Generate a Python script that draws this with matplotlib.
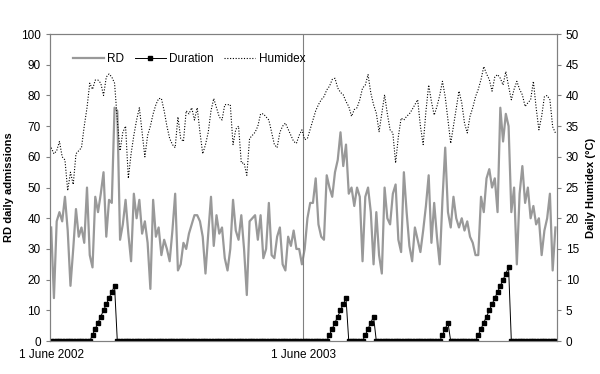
import matplotlib
matplotlib.use("Agg")
import matplotlib.pyplot as plt
import numpy as np

plt.rcParams["font.family"] = ["Liberation Sans", "DejaVu Sans"]

# daily values, 1 June - 31 August of each summer
rd_2002 = [37, 14, 39, 42, 39, 47, 36, 18, 30, 43, 34, 37, 32, 50, 28, 24, 47, 42, 48, 55,
           34, 46, 45, 76, 75, 33, 38, 46, 35, 26, 48, 40, 46, 35, 39, 32, 17, 46, 34, 37,
           28, 33, 30, 26, 36, 48, 23, 25, 32, 30, 35, 38, 41, 41, 39, 34, 22, 35, 47, 31,
           41, 35, 37, 27, 23, 30, 46, 36, 33, 41, 30, 15, 39, 40, 41, 33, 41, 27, 30, 45,
           28, 27, 34, 37, 25, 23, 34, 31, 36, 30, 30, 25]
rd_2003 = [30, 40, 45, 45, 53, 38, 34, 33, 54, 50, 47, 55, 59, 68, 57, 64, 48, 50, 44, 50,
           47, 26, 47, 50, 42, 25, 42, 28, 22, 50, 40, 38, 48, 51, 33, 29, 55, 42, 31, 26,
           37, 33, 29, 36, 44, 54, 32, 45, 34, 25, 46, 63, 42, 37, 47, 40, 37, 40, 36, 39,
           34, 32, 28, 28, 47, 42, 53, 56, 50, 53, 42, 76, 65, 74, 70, 42, 50, 25, 48, 57,
           45, 50, 40, 44, 38, 40, 28, 36, 40, 48, 23, 37]

humidex_2002 = [31.5, 30.5, 31, 32.5, 30, 29.5, 24.5, 27.5, 25.5, 30.5, 31, 31.5, 35, 38, 42, 41,
                42.5, 42.5, 42, 40, 43, 43.5, 43, 42, 36, 31, 34, 35, 26.5, 30.5, 33.5, 36,
                38, 34, 30, 33.5, 35, 37, 38.5, 39.5, 39.5, 37.5, 35, 33, 32, 31.5, 36.5, 33,
                32.5, 37.5, 37, 38, 36, 38, 34, 30.5, 32, 34, 37.5, 39.5, 38, 36.5, 36, 38.5,
                38.5, 38.5, 32, 34.5, 35, 29, 29, 27, 33, 33.5, 34, 35, 37, 37, 36.5, 36,
                34, 32, 31.5, 34, 35, 35.5, 34.5, 33.5, 32.5, 32.2, 33.5, 34.4]
humidex_2003 = [32.8, 33, 34.5, 36, 37.5, 38.5, 39.3, 39.8, 40.9, 41.5, 42.6, 42.8, 41.2, 40.5,
                40.1, 39, 38.2, 36.6, 37.7, 38, 39.3, 41.2, 41.7, 43.4, 40.4, 38.5, 37.1, 34.1,
                37.1, 40.1, 37, 34.4, 33.9, 29, 33.3, 36.3, 36, 36.6, 37, 37.7, 38.5, 39.3,
                35, 32, 37.4, 41.7, 39, 36.8, 38.2, 40, 42.3, 39.8, 36, 32.2, 35, 37.7, 40.7,
                38.8, 35.5, 33.9, 36.6, 38, 39.8, 41, 42.6, 44.7, 43.5, 42.6, 40.7, 43, 43.4,
                42.8, 41.7, 43.9, 41.5, 39.3, 41, 42.3, 41, 40.1, 38.2, 38.8, 39.3, 42.3, 38,
                34.4, 36.6, 39.8, 40, 39.3, 34.9, 33.9]

duration_2002 = [0, 0, 0, 0, 0, 0, 0, 0, 0, 0, 0, 0, 0, 0, 0, 1, 2, 3, 4, 5,
                 6, 7, 8, 9, 0, 0, 0, 0, 0, 0, 0, 0, 0, 0, 0, 0, 0, 0, 0, 0,
                 0, 0, 0, 0, 0, 0, 0, 0, 0, 0, 0, 0, 0, 0, 0, 0, 0, 0, 0, 0,
                 0, 0, 0, 0, 0, 0, 0, 0, 0, 0, 0, 0, 0, 0, 0, 0, 0, 0, 0, 0,
                 0, 0, 0, 0, 0, 0, 0, 0, 0, 0, 0, 0]
duration_2003 = [0, 0, 0, 0, 0, 0, 0, 0, 0, 1, 2, 3, 4, 5, 6, 7, 0, 0, 0, 0,
                 0, 0, 1, 2, 3, 4, 0, 0, 0, 0, 0, 0, 0, 0, 0, 0, 0, 0, 0, 0,
                 0, 0, 0, 0, 0, 0, 0, 0, 0, 0, 1, 2, 3, 0, 0, 0, 0, 0, 0, 0,
                 0, 0, 0, 1, 2, 3, 4, 5, 6, 7, 8, 9, 10, 11, 12, 0, 0, 0, 0, 0,
                 0, 0, 0, 0, 0, 0, 0, 0, 0, 0, 0, 0]

tick_labels = ["1 June 2002", "1 June 2003"]

rd = np.array(rd_2002 + rd_2003)
humidex = np.array(humidex_2002 + humidex_2003)
duration = np.array(duration_2002 + duration_2003)
days = np.arange(len(rd))
split = len(rd_2002)

grey = "#808080"

fig, ax = plt.subplots(figsize=(6, 3.74), dpi=100)
fig.subplots_adjust(left=0.083, right=0.928, top=0.909, bottom=0.088)
ax2 = ax.twinx()

l_rd, = ax.plot(days, rd, color="#999999", lw=1.6, label="RD")
l_dur, = ax2.plot(days, duration, color="black", lw=0.7, marker="s", ms=3.5,
                  label="Duration")
l_hum, = ax2.plot(days, humidex, color="black", lw=0.8, ls=(0, (1, 1.5)),
                  label="Humidex")

ax.axvline(split - 0.5, color=grey, lw=0.8)

ax.set_xlim(-0.5, len(rd) - 0.5)
ax.set_ylim(0, 100)
ax2.set_ylim(0, 50)
ax.set_yticks(np.arange(0, 101, 10))
ax2.set_yticks(np.arange(0, 51, 5))
ax.set_xticks([0, split - 0.5])
ax.set_xticklabels(tick_labels)

for a in (ax, ax2):
    for s in a.spines.values():
        s.set_color(grey)
        s.set_linewidth(0.8)
ax.tick_params(axis="x", length=0, labelsize=8.5, pad=6)
ax.tick_params(axis="y", length=3, color=grey, labelsize=8.5)
ax2.tick_params(axis="y", length=3, color=grey, labelsize=8.5)

ax.set_ylabel("RD daily admissions", fontsize=8, fontweight="bold", labelpad=5)
ax2.set_ylabel("Daily Humidex (\u00b0C)", fontsize=8, fontweight="bold", labelpad=5)

ax2.legend(handles=[l_rd, l_dur, l_hum], loc="center left",
           bbox_to_anchor=(0.025, 0.918), ncol=3, frameon=False, fontsize=8.5,
           handlelength=2.6, handletextpad=0.3, columnspacing=0.9)

fig.savefig("out.png", dpi=100)
